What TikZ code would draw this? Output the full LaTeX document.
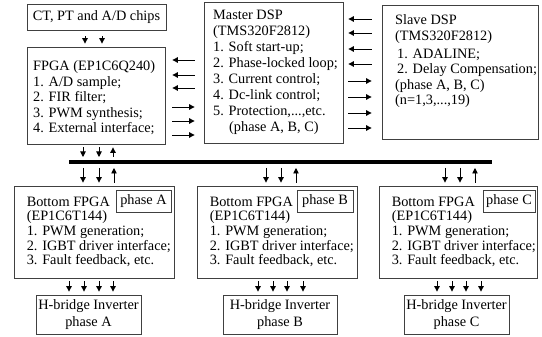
\documentclass[tikz,border=0pt]{standalone}
\usepackage{fontspec}
\setmainfont{Liberation Serif}
\usetikzlibrary{arrows.meta,calc}
\newcommand{\txtsize}[1]{\fontsize{14.3}{#1}\selectfont}
\begin{document}
\begin{tikzpicture}[x=1pt,y=-1pt,
  box/.style={draw=black!75, line width=0.8pt, inner sep=0pt},
  txt/.style={anchor=north west, inner sep=0pt, align=left},
  ctr/.style={inner sep=0pt, align=center},
  arr/.style={-{Triangle[length=5.5pt,width=5.5pt]}, line width=0.9pt},
  sh/.style 2 args={shorten <=#1pt, shorten >=#2pt},
  bus/.style={line width=4.6pt}]
\useasboundingbox (0,0) rectangle (542,337);

% ---- top row ----
\node[box, minimum width=139, minimum height=26] (ct) at (96.5,17) {};
\node[ctr, font=\txtsize{15.5}] (cttxt) at (ct.center) {CT, PT and A/D chips};

\node[box, minimum width=138, minimum height=97] (fpga) at (96,95.5) {};
\node[txt, font=\txtsize{15.5}] (fpgatxt) at (33,60.5)
  {FPGA (EP1C6Q240)\\1. A/D sample;\\2. FIR filter;\\3. PWM synthesis;\\4. External interface;};

\node[box, minimum width=139, minimum height=141] (master) at (273.5,72.5) {};
\node[txt, font=\txtsize{16}] (mastertxt) at (213,9.7)
  {Master DSP\\(TMS320F2812)\\1. Soft start-up;\\2. Phase-locked loop;\\3. Current control;\\4. Dc-link control;\\5. Protection,...,etc.\\\hspace*{16pt}(phase A, B, C)};

\node[box, minimum width=156, minimum height=134] (slave) at (460,72) {};
\node[txt, font=\txtsize{15.3}] (slavetxt) at (395,14.7)
  {Slave DSP\\(TMS320F2812)\\[3pt]\hspace*{2pt}1. ADALINE;\\\hspace*{2pt}2. Delay Compensation;\\(phase A, B, C)\\(n=1,3,...,19)};

% ---- bus ----
\coordinate (busL) at (69,162);
\coordinate (busR) at (492,162);
\draw[bus] (busL) -- (busR);

% ---- bottom row: phase FPGAs and H-bridge inverters ----
\foreach \ph/\cx/\bw/\px/\pw/\hx/\hw in
  {A/94/160/143.5/55/88.5/105, B/277/160/325/56/280/114, C/458/158/509/52/456.5/105}{
  \node[box, minimum width=\bw, minimum height=92] (bot\ph) at (\cx,232.5) {};
  \node[txt, font=\txtsize{14.6}] (bottxt\ph) at ($(bot\ph.west)+(13,-35.8)$)
    {Bottom FPGA\\(EP1C6T144)\\1. PWM generation;\\2. IGBT driver interface;\\3. Fault feedback, etc.};
  \node[box, minimum width=\pw, minimum height=22] (tag\ph) at (\px,201) {};
  \node[ctr, font=\txtsize{15}] (tagtxt\ph) at (tag\ph.center) {phase \ph};
  \node[box, minimum width=\hw, minimum height=39] (hb\ph) at (\hx,314.5) {};
  \node[ctr, font=\txtsize{17}] (hbtxt\ph) at (hb\ph.center) {H-bridge Inverter\\phase \ph};
}

% ---- connectors ----
% sensors to FPGA
\foreach \x in {85,102}
  \draw[arr, sh={6}{3}] (ct.south -| \x,0) -- (fpga.north -| \x,0);

% FPGA <-> master DSP
\foreach \y in {60,75,88}
  \draw[arr, sh={9}{7}] (master.west |- 0,\y) -- (fpga.east |- 0,\y);
\foreach \y in {107,121,135}
  \draw[arr, sh={7}{9}] (fpga.east |- 0,\y) -- (master.west |- 0,\y);

% master DSP <-> slave DSP
\foreach \y in {19,33,49,64}
  \draw[arr, sh={10}{5}] (slave.west |- 0,\y) -- (master.east |- 0,\y);
\foreach \y in {81,97,113,128}
  \draw[arr, sh={5}{10}] (master.east |- 0,\y) -- (slave.west |- 0,\y);

% FPGA <-> bus
\foreach \x in {83,99}
  \draw[arr, sh={3}{5}] (fpga.south -| \x,0) -- (busL -| \x,0);
\draw[arr, sh={5}{3}] (busL -| 113,0) -- (fpga.south -| 113,0);

% bus <-> phase FPGAs
\foreach \ph/\a/\b/\c in {A/83/99/114, B/266/281/296, C/445/460/475}{
  \draw[arr, sh={6}{3.5}] (busL -| \a,0) -- (bot\ph.north -| \a,0);
  \draw[arr, sh={6}{3.5}] (busL -| \b,0) -- (bot\ph.north -| \b,0);
  \draw[arr, sh={3.5}{6}] (bot\ph.north -| \c,0) -- (busL -| \c,0);
}

% phase FPGAs to H-bridges
\foreach \ph/\a/\b/\c/\d in {A/69/84/99/113, B/258/273/287/303, C/437/452/466/481}
  \foreach \x in {\a,\b,\c,\d}
    \draw[arr, sh={2.5}{3}] (bot\ph.south -| \x,0) -- (hb\ph.north -| \x,0);
\end{tikzpicture}
\end{document}
